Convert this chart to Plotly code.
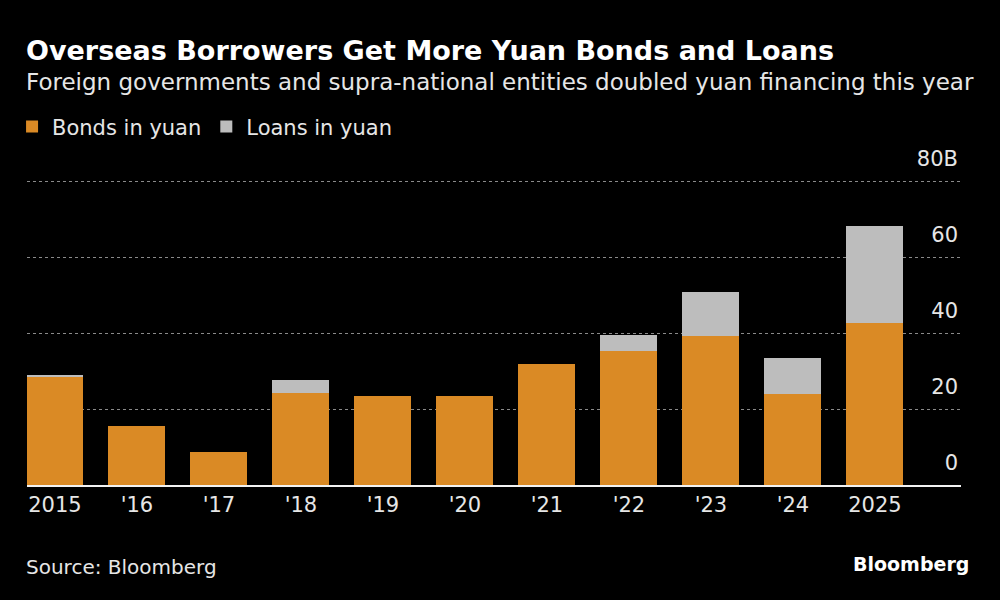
from plotly import graph_objs as go

years = ["2015", "'16", "'17", "'18", "'19", "'20", "'21", "'22", "'23", "'24", "2025"]
bonds = [28.5, 15.6, 8.8, 24.1, 23.4, 23.3, 31.9, 35.3, 39.2, 23.9, 42.6]
loans = [0.3, 0, 0, 3.5, 0, 0, 0, 4.3, 11.6, 9.6, 25.6]
y_ticks = [0, 20, 40, 60, 80]
y_labels = ["0", "20", "40", "60", "80B"]

FONT = "DejaVu Sans, Verdana, sans-serif"
ORANGE = "#DA8A25"
GRAY = "#BDBDBD"
TEXT = "#E6E6E6"

x_pos = list(range(len(years)))

fig = go.Figure(
    layout=go.Layout(
        width=1000,
        height=600,
        paper_bgcolor="black",
        plot_bgcolor="black",
        barmode="stack",
        margin={"l": 21, "r": 39, "t": 143, "b": 115},
        font={"family": FONT, "color": TEXT, "size": 21},
        showlegend=True,
        legend={
            "orientation": "h",
            "x": -0.016,
            "xref": "paper",
            "xanchor": "left",
            "y": 1.047,
            "yref": "paper",
            "yanchor": "middle",
            "itemwidth": 30,
            "font": {"size": 21, "color": TEXT},
            "bgcolor": "rgba(0,0,0,0)",
            "traceorder": "normal",
        },
        xaxis={
            "tickvals": x_pos,
            "ticktext": years,
            "range": [-0.34, 11.05],
            "showgrid": False,
            "showline": True,
            "linecolor": "#F2F2F2",
            "linewidth": 1.5,
            "ticks": "",
            "tickfont": {"size": 21, "color": TEXT},
            "fixedrange": True,
        },
        yaxis={
            "range": [0, 90],
            "side": "right",
            "tickvals": y_ticks,
            "ticktext": y_labels,
            "ticklabelposition": "inside",
            "ticklabelshift": -22,
            "ticklabelstandoff": 0,
            "showgrid": True,
            "gridcolor": "#8A8A8A",
            "griddash": "dot",
            "gridwidth": 1,
            "zeroline": False,
            "showline": False,
            "ticks": "",
            "tickfont": {"size": 21, "color": TEXT},
            "fixedrange": True,
        },
    )
)

fig.add_trace(
    go.Bar(
        x=x_pos,
        y=bonds,
        name="Bonds in yuan",
        width=0.695,
        marker={"color": ORANGE, "line": {"width": 0}},
    )
)

fig.add_trace(
    go.Bar(
        x=x_pos,
        y=loans,
        name="Loans in yuan",
        width=0.695,
        marker={"color": GRAY, "line": {"width": 0}},
    )
)

# textos de cabecera y pie
fig.add_annotation(
    text="<b>Overseas Borrowers Get More Yuan Bonds and Loans</b>",
    xref="paper", yref="paper", x=0, y=1, xanchor="left", yanchor="middle",
    xshift=-3, yshift=93, showarrow=False,
    font={"size": 27, "color": "white", "family": FONT},
)
fig.add_annotation(
    text="Foreign governments and supra-national entities doubled yuan financing this year",
    xref="paper", yref="paper", x=0, y=1, xanchor="left", yanchor="middle",
    xshift=-3, yshift=61, showarrow=False,
    font={"size": 23, "color": TEXT, "family": FONT},
)
fig.add_annotation(
    text="Source: Bloomberg",
    xref="paper", yref="paper", x=0, y=0, xanchor="left", yanchor="middle",
    xshift=-3, yshift=-82, showarrow=False,
    font={"size": 20, "color": TEXT, "family": FONT},
)
fig.add_annotation(
    text="<b>Bloomberg</b>",
    xref="paper", yref="paper", x=1, y=0, xanchor="right", yanchor="middle",
    xshift=10, yshift=-79, showarrow=False,
    font={"size": 19, "color": "white", "family": FONT},
)

fig.write_html(
    "out.html",
    config={"displayModeBar": False},
    post_script="document.body.style.margin = '0';",
)
